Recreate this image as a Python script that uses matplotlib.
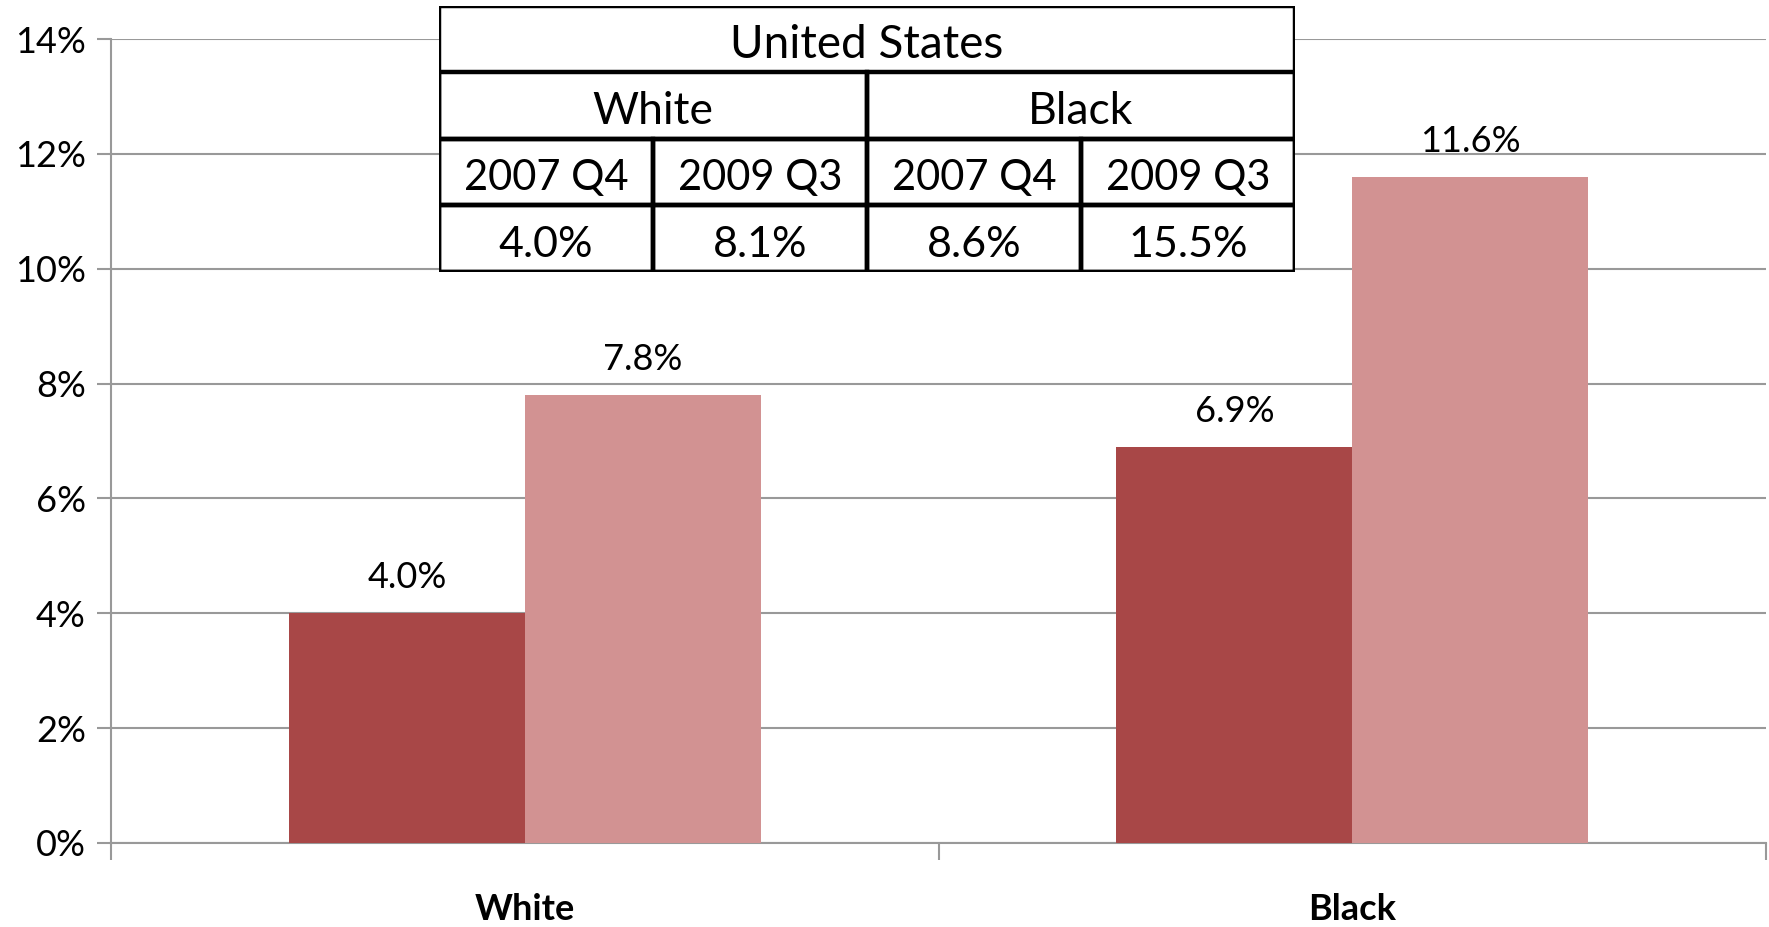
import matplotlib
matplotlib.use("Agg")
import matplotlib.pyplot as plt
from matplotlib.patches import Rectangle
import numpy as np

plt.rcParams['font.family'] = ['Lato', 'DejaVu Sans']

categories = ['White', 'Black']
q4_2007 = [4.0, 6.9]
q3_2009 = [7.8, 11.6]
yticks = [0, 2, 4, 6, 8, 10, 12, 14]

table_title = 'United States'
table_groups = ['White', 'Black']
table_periods = ['2007 Q4', '2009 Q3', '2007 Q4', '2009 Q3']
table_values = ['4.0%', '8.1%', '8.6%', '15.5%']

dark = '#A84747'
light = '#D29292'
grid = '#999999'

fig = plt.figure(figsize=(17.69, 9.27), dpi=100)
ax = fig.add_axes([111 / 1769, 1 - 843 / 927, (1766 - 111) / 1769, (843 - 39) / 927])

x = np.arange(len(categories))
w = 0.285
b1 = ax.bar(x - w / 2, q4_2007, w, color=dark, zorder=3)
b2 = ax.bar(x + w / 2, q3_2009, w, color=light, zorder=3)

for bars, vals in [(b1, q4_2007), (b2, q3_2009)]:
    for r, v in zip(bars, vals):
        ax.text(r.get_x() + r.get_width() / 2, v + 0.33, f'{v:.1f}%',
                ha='center', va='bottom', fontsize=26)

ax.set_xlim(-0.5, 1.5)
ax.set_ylim(0, 14)
ax.set_yticks(yticks)
ax.set_yticklabels([f'{t}%' for t in yticks], fontsize=26)
ax.yaxis.grid(True, color=grid, lw=1.5, zorder=0)
ax.tick_params(axis='y', length=10, width=1.5, color=grid, pad=8)

ax.set_xticks(x)
ax.set_xticklabels(categories, fontsize=26, fontweight='bold')
ax.tick_params(axis='x', length=0, pad=36)
ax.set_xticks([-0.5, 0.5, 1.5], minor=True)
ax.tick_params(axis='x', which='minor', length=12, width=1.5, color=grid)

for s in ['top', 'right']:
    ax.spines[s].set_visible(False)
for s in ['left', 'bottom']:
    ax.spines[s].set_color(grid)
    ax.spines[s].set_linewidth(1.5)

# summary table in the top of the plot
tab = fig.add_axes([439 / 1769, 1 - 272 / 927, (1295 - 439) / 1769, (272 - 6) / 927])
tab.set_xlim(0, 4)
tab.set_ylim(0, 4)
tab.axis('off')
lw = 3.2
dy = -0.09
tab.add_patch(Rectangle((0, 0), 4, 4, facecolor='white', edgecolor='black', lw=lw, zorder=1))
tab.text(2, 3.5 + dy, table_title, ha='center', va='center', fontsize=33)
for i, g in enumerate(table_groups):
    tab.add_patch(Rectangle((2 * i, 2), 2, 1, fill=False, edgecolor='black', lw=lw, zorder=2))
    tab.text(2 * i + 1, 2.5 + dy, g, ha='center', va='center', fontsize=32)
for i, (p, v) in enumerate(zip(table_periods, table_values)):
    tab.add_patch(Rectangle((i, 1), 1, 1, fill=False, edgecolor='black', lw=lw, zorder=2))
    tab.add_patch(Rectangle((i, 0), 1, 1, fill=False, edgecolor='black', lw=lw, zorder=2))
    tab.text(i + 0.5, 1.5 + dy, p, ha='center', va='center', fontsize=30)
    tab.text(i + 0.5, 0.5 + dy, v, ha='center', va='center', fontsize=31)

fig.savefig('out.png', dpi=100)
